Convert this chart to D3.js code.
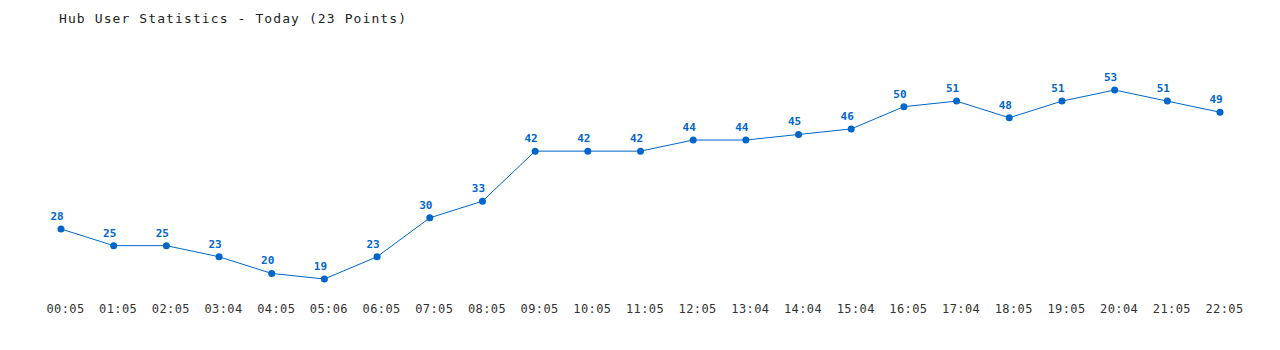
<!DOCTYPE html>
<html>
<head>
<meta charset="utf-8">
<script src="https://cdn.jsdelivr.net/npm/d3@7"></script>
<style>
  body { margin: 0; background: #fff; }
  svg { display: block; }
</style>
</head>
<body>
<svg id="chart" width="1280" height="350"></svg>
<script>
// data
var times = ["00:05", "01:05", "02:05", "03:04", "04:05", "05:06", "06:05", "07:05", "08:05", "09:05",
  "10:05", "11:05", "12:05", "13:04", "14:04", "15:04", "16:05", "17:04", "18:05", "19:05",
  "20:04", "21:05", "22:05"];
var users = [28, 25, 25, 23, 20, 19, 23, 30, 33, 42, 42, 42, 44, 44, 45, 46, 50, 51, 48, 51, 53, 51, 49];
var title = "Hub User Statistics - Today (23 Points)";

var blue = "#0066cc";
var font = "'DejaVu Sans Mono', 'Liberation Mono', monospace";

var svg = d3.select("#chart");

var xScale = d3.scalePoint().domain(times).range([61, 1220]);
var yScale = d3.scaleLinear()
  .domain([d3.min(users), d3.max(users)])
  .range([279, 90]);

var points = times.map(function(t, i) { return {time: t, value: users[i]}; });

// title
svg.append("text")
  .attr("x", 59).attr("y", 23)
  .style("font-family", font)
  .style("font-size", "13px")
  .style("letter-spacing", "1.1px")
  .attr("fill", "#222")
  .text(title);

// x axis labels (no axis line in the original)
var xAxis = d3.axisBottom(xScale).tickSize(0).tickPadding(0);
var ax = svg.append("g")
  .attr("transform", "translate(0,304)")
  .call(xAxis);
ax.select(".domain").remove();
ax.selectAll("text")
  .attr("dx", 4)
  .style("font-family", font)
  .style("font-size", "12px")
  .style("letter-spacing", "0.4px")
  .attr("fill", "#333");

// line
var line = d3.line()
  .x(function(d) { return xScale(d.time); })
  .y(function(d) { return yScale(d.value); });

svg.append("path")
  .datum(points)
  .attr("d", line)
  .attr("fill", "none")
  .attr("stroke", blue)
  .attr("stroke-width", 1);

// dots
svg.selectAll("circle")
  .data(points)
  .enter()
  .append("circle")
  .attr("cx", function(d) { return xScale(d.time); })
  .attr("cy", function(d) { return yScale(d.value); })
  .attr("r", 3.5)
  .attr("fill", blue);

// value labels
svg.selectAll("text.val")
  .data(points)
  .enter()
  .append("text")
  .attr("class", "val")
  .attr("x", function(d) { return xScale(d.time) - 4; })
  .attr("y", function(d) { return yScale(d.value) - 9; })
  .attr("text-anchor", "middle")
  .style("font-family", font)
  .style("font-size", "11px")
  .style("font-weight", "bold")
  .attr("fill", blue)
  .text(function(d) { return d.value; });
</script>
</body>
</html>
